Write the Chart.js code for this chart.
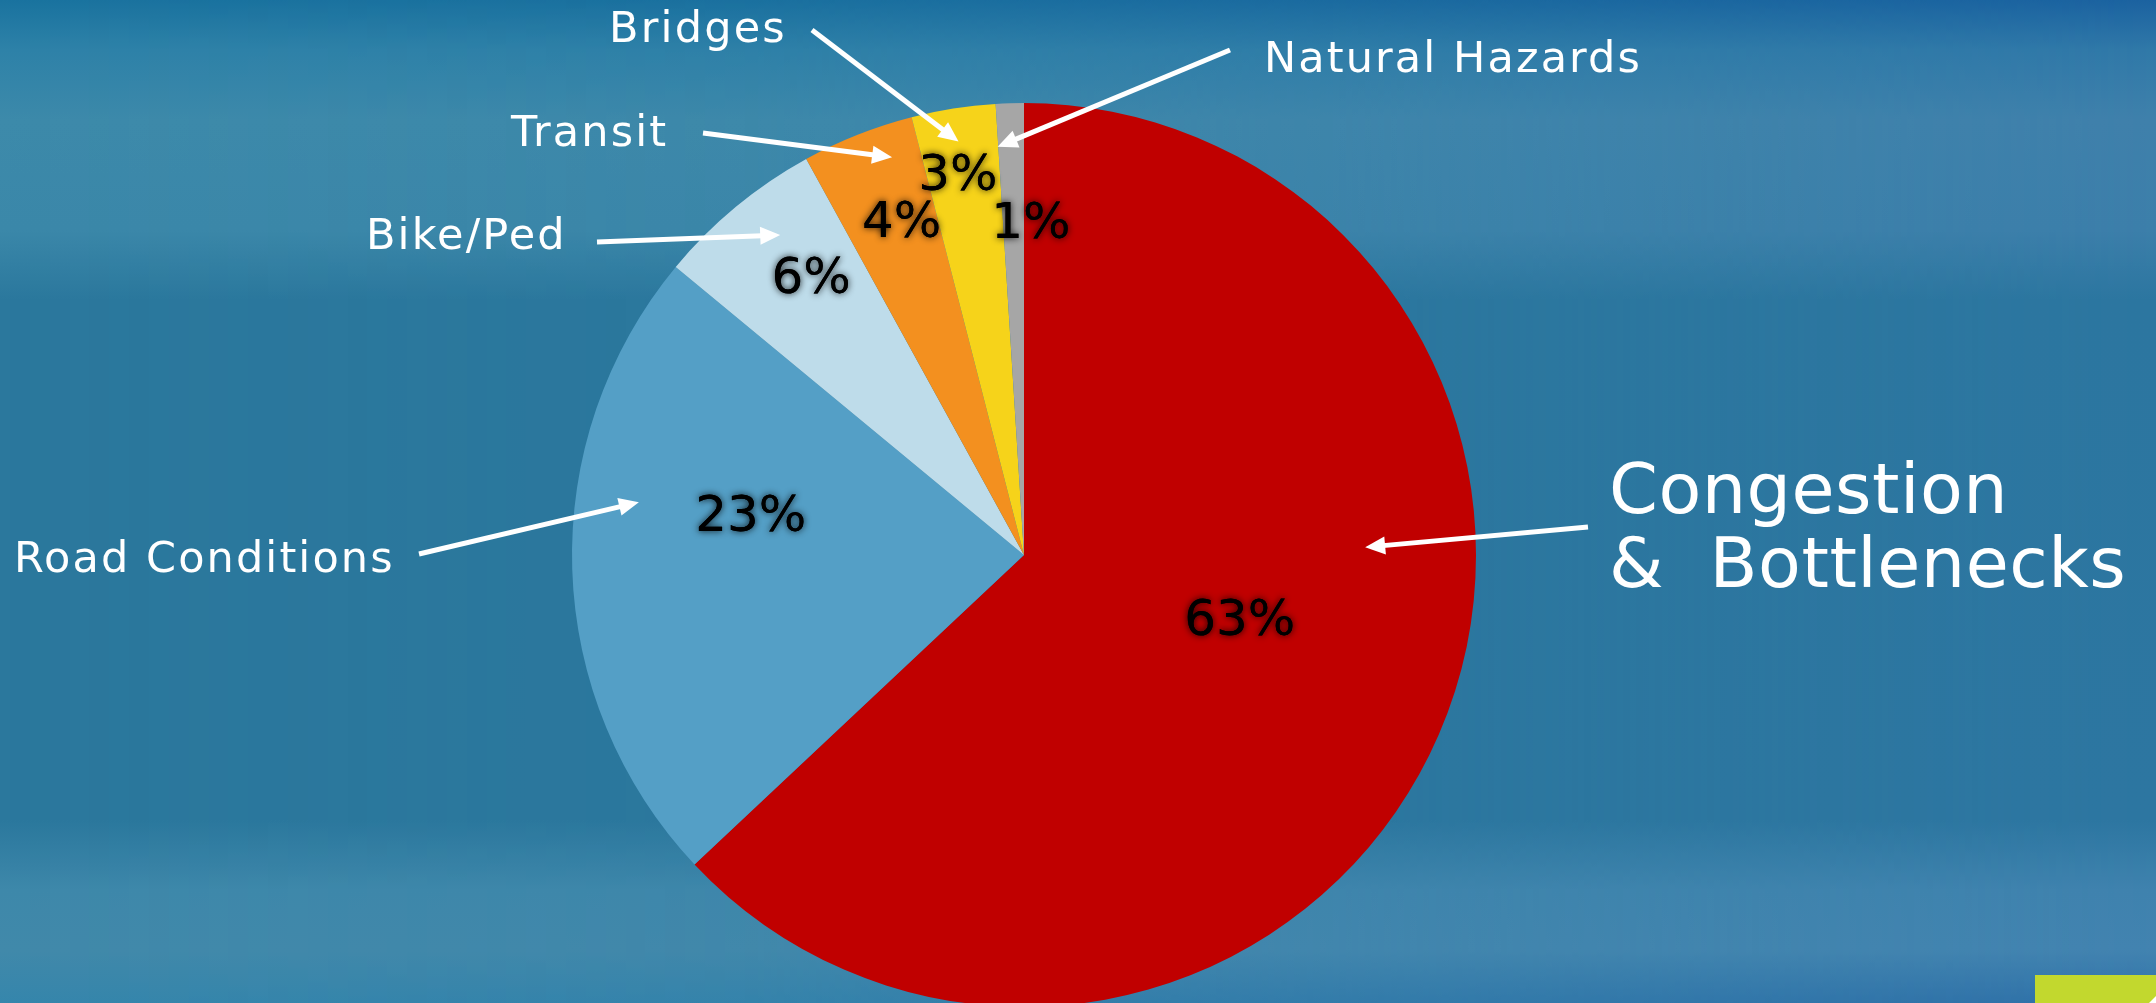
<!DOCTYPE html>
<html><head><meta charset="utf-8">
<script src="https://cdn.jsdelivr.net/npm/chart.js@4"></script>
<style>
html,body{margin:0;padding:0;overflow:hidden;width:2156px;height:1003px;background:#2b789d;}
#wrap{position:absolute;left:0;top:0;width:2156px;height:1010px;}
</style></head><body>
<div id="wrap"><canvas id="c"></canvas></div>
<script>
// ---- data ----
const categories = ['Congestion & Bottlenecks','Road Conditions','Bike/Ped','Transit','Bridges','Natural Hazards'];
const shares = [63, 23, 6, 4, 3, 1];
const percentLabels = ['63%','23%','6%','4%','3%','1%'];
const calloutLines = [['Congestion','&  Bottlenecks'],['Road Conditions'],['Bike/Ped'],['Transit'],['Bridges'],['Natural Hazards']];
const sliceColors = ['#c00000','#549fc6','#bedcea','#f3901f','#f6d31a','#a6a6a6'];

// ---- layout (not data) ----
const pctRadius = [0.50, 0.61, 0.77, 0.78, 0.85, 0.73];
const pctAngleNudge = [-6.1, 9.5, 1.9, 1.3, -0.9, 3.0]; // degrees
const calloutPos = [[1609, 495, 74], [14, 561, 0], [366, 238, 0], [511, 135, 0], [609, 31, 0], [1264, 61, 0]];
const calloutFont = [70, 43, 43, 43, 43, 43];
const calloutSpacing = [0.5, 2.1, 2.1, 2.1, 2.2, 2.1];
const arrowStart = [[1588, 527], [419, 554], [597, 242], [703, 133], [812, 30], [1230, 50]];
const arrowTip = [[88.7, 0.755], [277.8, 0.86], [322.7, 0.89], [341.65, 0.927], [351.0, 0.926], [356.3, 0.905]];

const leftStops = [[0,'#1a739f'],[50,'#2e82a8'],[120,'#3d8aaa'],[230,'#3b88a9'],[300,'#2b789d'],[820,'#2b789d'],[890,'#3e88aa'],[950,'#4189aa'],[1010,'#3486ac']];
const rightStops = [[0,'#1b62a0'],[50,'#3078a8'],[120,'#3f80ab'],[230,'#3c7eaa'],[300,'#2c76a0'],[820,'#2d76a1'],[890,'#3f82ae'],[950,'#4283b0'],[1010,'#2d6ea7']];

function vgrad(ctx, h, stops){
  const g = ctx.createLinearGradient(0,0,0,h);
  stops.forEach(s => g.addColorStop(Math.min(1, s[0]/h), s[1]));
  return g;
}

const bgPlugin = {
  id:'bg',
  beforeDraw(chart){
    const ctx = chart.ctx, w = chart.width, h = chart.height;
    ctx.save();
    ctx.fillStyle = vgrad(ctx, h, leftStops);
    ctx.fillRect(0,0,w,h);
    const off = document.createElement('canvas');
    off.width = w; off.height = h;
    const o = off.getContext('2d');
    o.fillStyle = vgrad(o, h, rightStops);
    o.fillRect(0,0,w,h);
    o.globalCompositeOperation = 'destination-in';
    const hg = o.createLinearGradient(0,0,w,0);
    hg.addColorStop(0,'rgba(0,0,0,0)');
    hg.addColorStop(0.35,'rgba(0,0,0,0.15)');
    hg.addColorStop(1,'rgba(0,0,0,1)');
    o.fillStyle = hg;
    o.fillRect(0,0,w,h);
    ctx.drawImage(off,0,0);
    ctx.restore();
  }
};

function drawArrow(ctx, x1, y1, x2, y2){
  const ang = Math.atan2(y2-y1, x2-x1);
  const head = 20, hw = 9;
  const bx = x2 - head*Math.cos(ang), by = y2 - head*Math.sin(ang);
  ctx.beginPath();
  ctx.moveTo(x1,y1); ctx.lineTo(bx + 2*Math.cos(ang), by + 2*Math.sin(ang));
  ctx.lineWidth = 5; ctx.strokeStyle = '#ffffff'; ctx.lineCap = 'butt';
  ctx.stroke();
  ctx.beginPath();
  ctx.moveTo(x2,y2);
  ctx.lineTo(bx + hw*Math.sin(ang), by - hw*Math.cos(ang));
  ctx.lineTo(bx - hw*Math.sin(ang), by + hw*Math.cos(ang));
  ctx.closePath();
  ctx.fillStyle = '#ffffff';
  ctx.fill();
}

const annotPlugin = {
  id:'annot',
  afterDraw(chart){
    const ctx = chart.ctx;
    const meta = chart.getDatasetMeta(0);
    const deg = Math.PI/180;
    ctx.save();
    meta.data.forEach((arc, i) => {
      const p = arc.getProps(['x','y','startAngle','endAngle','outerRadius'], true);
      const R = p.outerRadius;
      // percent labels
      const mid = (p.startAngle + p.endAngle)/2 + pctAngleNudge[i]*deg;
      const lx = p.x + pctRadius[i]*R*Math.cos(mid);
      const ly = p.y + pctRadius[i]*R*Math.sin(mid);
      ctx.save();
      ctx.font = '50px "DejaVu Sans"';
      ctx.textAlign = 'center'; ctx.textBaseline = 'middle';
      ctx.shadowColor = 'rgba(0,0,0,0.9)'; ctx.shadowBlur = 7;
      ctx.fillStyle = '#000000';
      ctx.fillText(percentLabels[i], lx, ly);
      ctx.shadowBlur = 0;
      ctx.fillText(percentLabels[i], lx, ly);
      ctx.restore();
      // arrows
      const ta = (arrowTip[i][0] - 90)*deg;
      const tx = p.x + arrowTip[i][1]*R*Math.cos(ta);
      const ty = p.y + arrowTip[i][1]*R*Math.sin(ta);
      drawArrow(ctx, arrowStart[i][0], arrowStart[i][1], tx, ty);
      // callout text
      ctx.save();
      ctx.font = calloutFont[i] + 'px "DejaVu Sans"';
      if ('letterSpacing' in ctx) ctx.letterSpacing = calloutSpacing[i] + 'px';
      ctx.fillStyle = '#ffffff';
      ctx.textAlign = 'left'; ctx.textBaseline = 'middle';
      calloutLines[i].forEach((t, k) => {
        ctx.fillText(t, calloutPos[i][0], calloutPos[i][1] + k*calloutPos[i][2]);
      });
      ctx.restore();
    });
    // corner decoration
    ctx.fillStyle = '#c2d82e';
    ctx.fillRect(2035, 975, 121, 40);
    ctx.fillStyle = '#ffffff';
    ctx.beginPath(); ctx.moveTo(2149,1003); ctx.lineTo(2156,996); ctx.lineTo(2156,1003); ctx.closePath(); ctx.fill();
    ctx.restore();
  }
};

new Chart(document.getElementById('c'), {
  type:'pie',
  data:{ labels:categories, datasets:[{ data:shares, backgroundColor:sliceColors, borderWidth:0 }] },
  options:{
    responsive:true, maintainAspectRatio:false, animation:false,
    layout:{ padding:{ top:103, bottom:3, left:0, right:108 } },
    plugins:{ legend:{ display:false }, tooltip:{ enabled:false } }
  },
  plugins:[bgPlugin, annotPlugin]
});
</script>
</body></html>
